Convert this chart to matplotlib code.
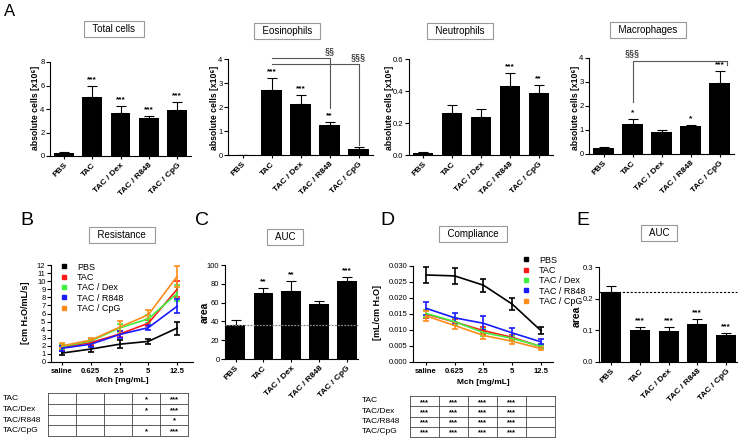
import numpy as np
import matplotlib
matplotlib.use('Agg')
import matplotlib.pyplot as plt
from matplotlib.lines import Line2D

plt.rcParams['font.family'] = ['Liberation Sans', 'DejaVu Sans']
plt.rcParams['axes.linewidth'] = 0.8

# ---- data ----
groups = ['PBS', 'TAC', 'TAC / Dex', 'TAC / R848', 'TAC / CpG']
doses = ['saline', '0.625', '2.5', '5', '12.5']

total_mean = [0.25, 5.05, 3.7, 3.2, 3.95]
total_sem = [0.05, 0.9, 0.55, 0.2, 0.65]
total_stars = ['', '***', '***', '***', '***']

eos_mean = [0.0, 2.72, 2.12, 1.25, 0.25]
eos_sem = [0.0, 0.48, 0.38, 0.12, 0.08]
eos_stars = ['', '***', '***', '**', '']

neu_mean = [0.012, 0.26, 0.24, 0.43, 0.385]
neu_sem = [0.005, 0.055, 0.05, 0.08, 0.052]
neu_stars = ['', '', '', '***', '**']

mac_mean = [0.25, 1.25, 0.92, 1.15, 2.95]
mac_sem = [0.04, 0.2, 0.08, 0.07, 0.5]
mac_stars = ['', '*', '', '*', '***']

res_pbs = [1.1, 1.6, 2.2, 2.55, 4.2]
res_pbs_err = [0.25, 0.4, 0.5, 0.35, 0.8]
res_tac = [1.8, 2.4, 3.45, 4.8, 9.0]
res_tac_err = [0.3, 0.3, 0.4, 0.4, 1.0]
res_dex = [1.9, 2.6, 4.2, 5.35, 8.5]
res_dex_err = [0.3, 0.3, 0.5, 0.5, 1.0]
res_r848 = [1.7, 2.2, 3.4, 4.25, 6.9]
res_r848_err = [0.3, 0.3, 0.4, 0.3, 0.85]
res_cpg = [2.0, 2.7, 4.3, 5.85, 10.6]
res_cpg_err = [0.3, 0.3, 0.8, 0.55, 1.3]

comp_pbs = [0.0272, 0.0269, 0.0240, 0.0181, 0.0098]
comp_pbs_err = [0.0025, 0.0025, 0.002, 0.002, 0.0012]
comp_tac = [0.0150, 0.0125, 0.0098, 0.0077, 0.0048]
comp_tac_err = [0.0012, 0.001, 0.001, 0.0008, 0.0005]
comp_dex = [0.0152, 0.0126, 0.0092, 0.0074, 0.0049]
comp_dex_err = [0.0012, 0.001, 0.001, 0.0008, 0.0005]
comp_r848 = [0.0168, 0.0138, 0.0121, 0.0091, 0.0063]
comp_r848_err = [0.002, 0.0015, 0.0022, 0.0015, 0.0008]
comp_cpg = [0.0144, 0.0114, 0.0083, 0.0065, 0.0042]
comp_cpg_err = [0.0015, 0.001, 0.0012, 0.0008, 0.0006]

auc_res = [36, 70, 72, 58.5, 83]
auc_res_err = [6, 5.5, 11, 3, 4.5]
auc_res_stars = ['', '**', '**', '', '***']

auc_comp = [0.222, 0.101, 0.098, 0.120, 0.085]
auc_comp_err = [0.018, 0.008, 0.011, 0.015, 0.006]
auc_comp_stars = ['', '***', '***', '***', '***']

table_rows = ['TAC', 'TAC/Dex', 'TAC/R848', 'TAC/CpG']
res_sig = [['', '', '', '*', '***'],
           ['', '', '', '*', '***'],
           ['', '', '', '', '*'],
           ['', '', '', '*', '***']]
comp_sig = [['***', '***', '***', '***', ''] for _ in range(4)]

series_names = ['PBS', 'TAC', 'TAC / Dex', 'TAC / R848', 'TAC / CpG']
series_colors = ['black', '#ff1a1a', '#40f040', '#1a1aff', '#ff8c1a']

W, H = 744, 441
fig = plt.figure(figsize=(W / 100, H / 100), dpi=100)


def box(x0, y0, x1, y1):
    return fig.add_axes([x0 / W, 1 - y1 / H, (x1 - x0) / W, (y1 - y0) / H])


def ftext(x, y, s, **kw):
    fig.text(x / W, 1 - y / H, s, **kw)


def style(ax, ymax, yticks, fmt):
    ax.spines['top'].set_visible(False)
    ax.spines['right'].set_visible(False)
    ax.set_ylim(0, ymax)
    ax.set_yticks(yticks)
    ax.set_yticklabels([fmt.format(v) for v in yticks], fontsize=5.5)
    ax.tick_params(axis='y', length=3, width=0.8, pad=1)
    ax.tick_params(axis='x', length=2, width=0.8, pad=2)


def bar_panel(ax, means, sems, stars, ymax, yticks, fmt, xl):
    x = np.arange(len(groups))
    ax.bar(x, means, width=0.7, color='black', zorder=2)
    ax.errorbar(x, means, yerr=[np.zeros(len(sems)), sems], fmt='none',
                ecolor='black', elinewidth=0.8, capsize=3.5, capthick=0.8, zorder=1)
    for xi, m, s, st in zip(x, means, sems, stars):
        if st:
            ax.annotate(st, (xi, m + s), xytext=(0, 2), textcoords='offset points',
                        ha='center', va='bottom', fontsize=6, fontweight='bold')
    ax.set_xlim(*xl)
    style(ax, ymax, yticks, fmt)
    ax.set_xticks(x)
    ax.set_xticklabels(groups, rotation=45, ha='right', rotation_mode='anchor',
                       fontsize=6, fontweight='bold')


def line_panel(ax, data, ymax, yticks, fmt, xl):
    x = np.arange(len(doses))
    for (m, e), c in zip(data, series_colors):
        ax.errorbar(x, m, yerr=e, color=c, lw=1.2, elinewidth=1.2,
                    capsize=2.5, capthick=1.2, clip_on=False)
    ax.set_xlim(*xl)
    style(ax, ymax, yticks, fmt)
    ax.set_xticks(x)
    ax.set_xticklabels(doses, fontsize=5.5, fontweight='bold')


def sig_table(ax, sig):
    ax.set_xlim(0, 5)
    ax.set_ylim(4, 0)
    ax.set_xticks([])
    ax.set_yticks([])
    for sp in ax.spines.values():
        sp.set_linewidth(0.6)
        sp.set_color('#444444')
    for i in range(1, 5):
        ax.axvline(i, color='#444444', lw=0.6)
    for j in range(1, 4):
        ax.axhline(j, color='#444444', lw=0.6)
    for j, row in enumerate(sig):
        for i, s in enumerate(row):
            if s:
                ax.text(i + 0.5, j + 0.62, s, ha='center', va='center',
                        fontsize=5.5, fontweight='bold')


def title_box(x, y, s):
    ftext(x, y, '  ' + s + '  ', ha='center', va='center', fontsize=7,
          bbox=dict(boxstyle='square,pad=0.3', fc='white', ec='#999999', lw=0.8))


def add_legend(ax, x, y):
    handles = [Line2D([], [], ls='none', marker='s', ms=2.5, color=c) for c in series_colors]
    ax.legend(handles, series_names, loc='upper left', bbox_to_anchor=(x / W, 1 - y / H),
              bbox_transform=fig.transFigure, frameon=False, fontsize=6.5,
              handlelength=0.6, handletextpad=1.1, labelspacing=0.15, borderpad=0)


# ---- A ----
ax1 = box(50, 62, 191, 156)
bar_panel(ax1, total_mean, total_sem, total_stars, 8, [0, 2, 4, 6, 8], '{:g}', (-0.5, 4.5))
ax2 = box(228, 59, 373, 155)
bar_panel(ax2, eos_mean, eos_sem, eos_stars, 4, [0, 1, 2, 3, 4], '{:g}', (-0.5, 4.5))
ax3 = box(409, 59, 553, 155)
bar_panel(ax3, neu_mean, neu_sem, neu_stars, 0.6, [0, 0.2, 0.4, 0.6], '{:.1f}', (-0.5, 4.5))
ax4 = box(589, 58, 734, 154)
bar_panel(ax4, mac_mean, mac_sem, mac_stars, 4, [0, 1, 2, 3, 4], '{:g}', (-0.5, 4.5))

# significance brackets (§ vs TAC)
bk = dict(color='#555555', lw=0.8, clip_on=False)
ax2.plot([1, 3, 3], [4.04, 4.04, 1.96], **bk)
ax2.plot([1, 4, 4], [3.79, 3.79, 0.4], **bk)
ax2.text(3, 4.1, '§§', ha='center', va='bottom', fontsize=6.5)
ax2.text(4, 3.85, '§§§', ha='center', va='bottom', fontsize=6.5)
ax4.plot([1, 1, 4.25, 4.25], [2.17, 3.88, 3.88, 3.7], **bk)
ax4.text(1, 4.0, '§§§', ha='center', va='bottom', fontsize=6.5)

for x in [35, 214, 389, 575]:
    ftext(x, 108, 'absolute cells [x10⁶]', rotation=90, ha='center', va='center',
          fontsize=6.2, fontweight='bold')

title_box(114, 29, 'Total cells')
title_box(287, 31, 'Eosinophils')
title_box(460, 31, 'Neutrophils')
title_box(648, 30, 'Macrophages')

# ---- B ----
axB = box(51, 265, 193, 362)
line_panel(axB, [(res_pbs, res_pbs_err), (res_tac, res_tac_err), (res_dex, res_dex_err),
                 (res_r848, res_r848_err), (res_cpg, res_cpg_err)],
           12, list(range(13)), '{:d}', (-0.38, 4.55))
ftext(26, 313, '[cm H₂O/mL/s]', rotation=90, ha='center', va='center',
      fontsize=6.5, fontweight='bold')
ftext(122, 381, 'Mch [mg/mL]', ha='center', va='center', fontsize=6, fontweight='bold')
title_box(122, 235, 'Resistance')
add_legend(axB, 57, 258)

tB = box(48, 393, 188, 436)
sig_table(tB, res_sig)
for j, r in enumerate(table_rows):
    ftext(3, 398.5 + j * 10.75, r, ha='left', va='center', fontsize=6)

# ---- C ----
axC = box(225, 265, 358, 359)
bar_panel(axC, auc_res, auc_res_err, auc_res_stars, 100, [0, 20, 40, 60, 80, 100], '{:d}', (-0.38, 4.4))
axC.axhline(auc_res[0], color='#888888', lw=0.9, ls=(0, (1.5, 1)), zorder=3, clip_on=False)
ftext(205, 312, 'area', rotation=90, ha='center', va='center', fontsize=7.5, fontweight='bold')
title_box(285, 237, 'AUC')

# ---- D ----
axD = box(413, 266, 553, 362)
line_panel(axD, [(comp_pbs, comp_pbs_err), (comp_tac, comp_tac_err), (comp_dex, comp_dex_err),
                 (comp_r848, comp_r848_err), (comp_cpg, comp_cpg_err)],
           0.030, [0, 0.005, 0.010, 0.015, 0.020, 0.025, 0.030], '{:.3f}', (-0.45, 4.42))
ftext(377, 313, '[mL/cm H₂O]', rotation=90, ha='center', va='center',
      fontsize=6.5, fontweight='bold')
ftext(483, 382, 'Mch [mg/mL]', ha='center', va='center', fontsize=6, fontweight='bold')
title_box(473, 234, 'Compliance')
add_legend(axD, 519, 251)

tD = box(410, 396, 555, 437)
sig_table(tD, comp_sig)
for j, r in enumerate(table_rows):
    ftext(362, 401 + j * 10.25, r, ha='left', va='center', fontsize=6)

# ---- E ----
axE = box(599, 267, 737, 362)
bar_panel(axE, auc_comp, auc_comp_err, auc_comp_stars, 0.3, [0, 0.1, 0.2, 0.3], '{:.1f}', (-0.42, 4.38))
axE.axhline(auc_comp[0], color='black', lw=0.8, ls=(0, (2, 1.5)), zorder=3, clip_on=False)
ftext(577, 316, 'area', rotation=90, ha='center', va='center', fontsize=7.5, fontweight='bold')
title_box(659, 233, 'AUC')

# panel letters
ftext(10, 12, 'A', ha='center', va='center', fontsize=12)
for x, l in [(27, 'B'), (202, 'C'), (387, 'D'), (583, 'E')]:
    ftext(x, 221, l, ha='center', va='center', fontsize=14)

fig.savefig('out.png', dpi=100)
